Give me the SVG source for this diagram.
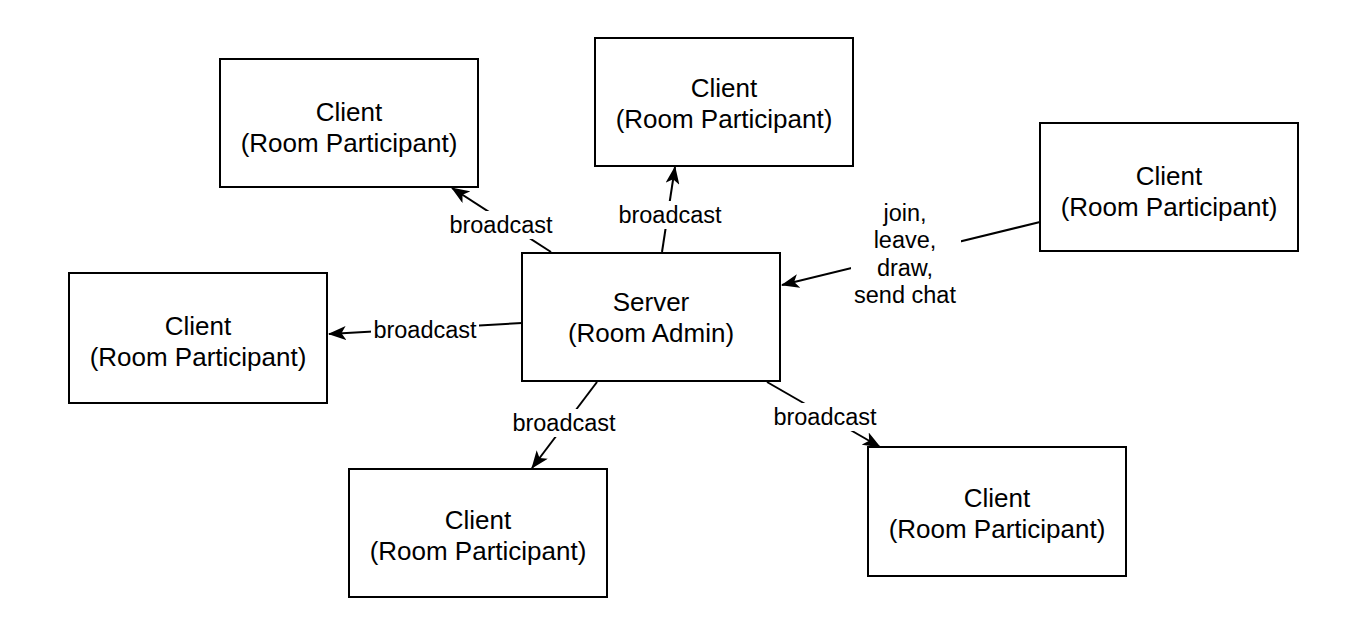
<svg xmlns="http://www.w3.org/2000/svg" width="1358" height="634" viewBox="0 0 1358 634">
<style>
.box{fill:#fff;stroke:#000;stroke-width:2}
.nt{font-family:"Liberation Sans",Arial,sans-serif;font-size:26px;fill:#000;text-anchor:middle;dominant-baseline:central}
.lt{font-family:"Liberation Sans",Arial,sans-serif;font-size:23.5px;fill:#000;text-anchor:middle;dominant-baseline:central}
.ln{fill:none;stroke:#000;stroke-width:2;marker-end:url(#arr)}
.bg{fill:#fff}
</style>
<defs>
<marker id="arr" viewBox="0 0 18 14" refX="17" refY="7" markerWidth="18" markerHeight="14" markerUnits="userSpaceOnUse" orient="auto">
<path d="M0,0 L18,7 L0,14 L4.5,7 z" fill="#000"/>
</marker>
</defs>
<rect width="1358" height="634" fill="#fff"/>
<g id="connectors">
<path class="ln" d="M551,252 L452,188"/>
<path class="ln" d="M662,252 L675,167"/>
<path class="ln" d="M1040,222 L782,285"/>
<path class="ln" d="M522,323 L329,334"/>
<path class="ln" d="M597,382 L532,468"/>
<path class="ln" d="M767,382 L880,447"/>
<g id="labels">
<rect class="bg" x="447" y="211" width="108" height="28"/>
<text class="lt" x="501" y="225">broadcast</text>
<rect class="bg" x="616" y="201" width="108" height="28"/>
<text class="lt" x="670" y="215">broadcast</text>
<rect class="bg" x="371" y="316" width="108" height="28"/>
<text class="lt" x="425" y="330">broadcast</text>
<rect class="bg" x="510" y="409" width="108" height="28"/>
<text class="lt" x="564" y="423">broadcast</text>
<rect class="bg" x="771" y="403" width="108" height="28"/>
<text class="lt" x="825" y="417">broadcast</text>
<rect class="bg" x="851" y="198" width="110" height="112"/>
<text class="lt" x="905" y="213">join,</text>
<text class="lt" x="905" y="240">leave,</text>
<text class="lt" x="905" y="268">draw,</text>
<text class="lt" x="905" y="295">send chat</text>
</g>
</g>
<g id="server">
<rect class="box" x="522" y="253" width="258" height="128"/>
<text class="nt" x="651" y="302">Server</text>
<text class="nt" x="651" y="333">(Room Admin)</text>
</g>
<g id="client1">
<rect class="box" x="220" y="59" width="258" height="128"/>
<text class="nt" x="349" y="112">Client</text>
<text class="nt" x="349" y="143">(Room Participant)</text>
</g>
<g id="client2">
<rect class="box" x="595" y="38" width="258" height="128"/>
<text class="nt" x="724" y="88">Client</text>
<text class="nt" x="724" y="119">(Room Participant)</text>
</g>
<g id="client3">
<rect class="box" x="1040" y="123" width="258" height="128"/>
<text class="nt" x="1169" y="176">Client</text>
<text class="nt" x="1169" y="207">(Room Participant)</text>
</g>
<g id="client4">
<rect class="box" x="69" y="273" width="258" height="130"/>
<text class="nt" x="198" y="326">Client</text>
<text class="nt" x="198" y="357">(Room Participant)</text>
</g>
<g id="client5">
<rect class="box" x="349" y="469" width="258" height="128"/>
<text class="nt" x="478" y="520">Client</text>
<text class="nt" x="478" y="551">(Room Participant)</text>
</g>
<g id="client6">
<rect class="box" x="868" y="447" width="258" height="129"/>
<text class="nt" x="997" y="498">Client</text>
<text class="nt" x="997" y="529">(Room Participant)</text>
</g>
</svg>
